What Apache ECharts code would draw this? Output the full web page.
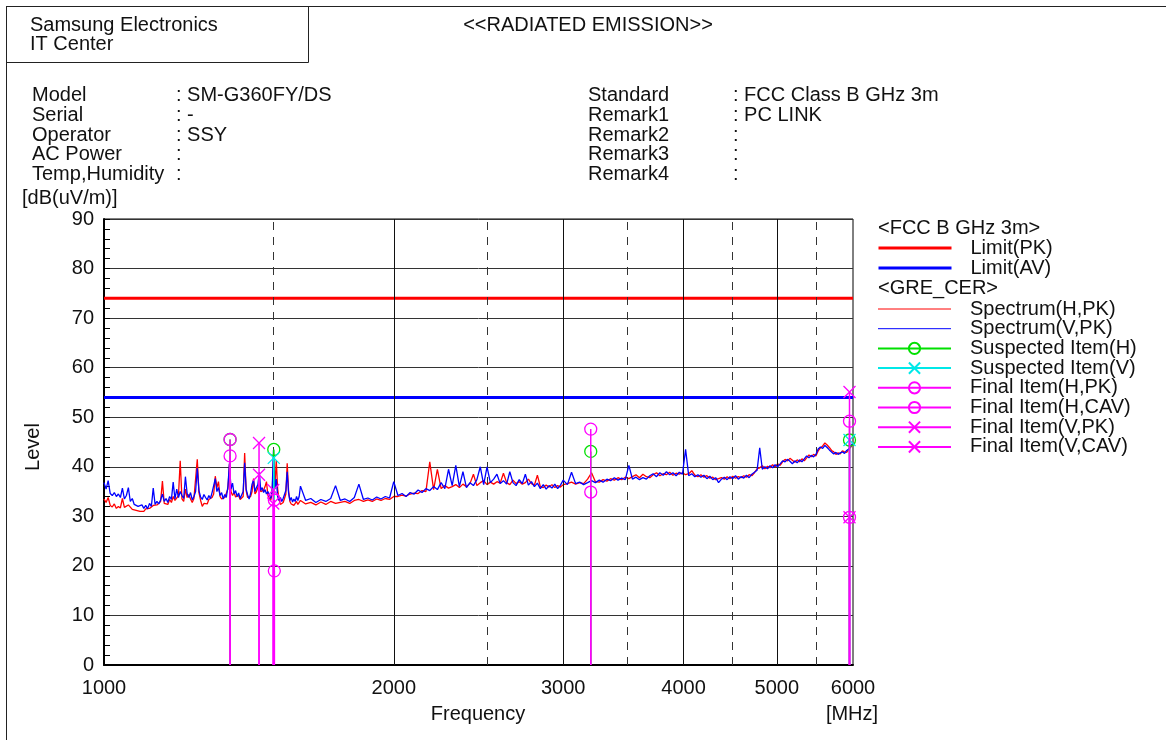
<!DOCTYPE html>
<html><head><meta charset="utf-8">
<script src="https://cdn.jsdelivr.net/npm/echarts@6/dist/echarts.min.js"></script>
<style>html,body{margin:0;padding:0;background:#fff}#c{width:1166px;height:740px}</style>
</head><body><div id="c"></div>
<script>
// ---- data: measurement sweep (MHz) ----
const freqs = [
1000,1005,1010,1015,1020,1025,1030,1035,1040,1045,
1050,1055,1060,1065,1070,1075,1080,1085,1090,1095,
1100,1105,1110,1115,1120,1125,1130,1135,1140,1145,
1150,1155,1160,1165,1170,1175,1180,1185,1190,1195,
1200,1205,1210,1215,1220,1225,1230,1235,1240,1245,
1250,1255,1260,1265,1270,1275,1280,1285,1290,1295,
1300,1305,1310,1315,1320,1325,1330,1335,1340,1345,
1350,1355,1360,1365,1370,1375,1380,1385,1390,1395,
1400,1405,1410,1415,1420,1425,1430,1435,1440,1445,
1450,1455,1460,1465,1470,1475,1480,1485,1490,1495,
1500,1505,1510,1515,1520,1525,1530,1535,1540,1545,
1550,1555,1560,1565,1570,1575,1580,1585,1590,1595,
1600,
1620,1640,1660,1680,1700,1720,1740,1760,1780,1800,
1820,1840,1860,1880,1900,1920,1940,1960,1980,2000,
2020,2040,2060,2080,2100,2120,2140,2160,2180,2200,
2220,2240,2260,2280,2300,2320,2340,2360,2380,2400,
2420,2440,2460,2480,2500,2520,2540,2560,2580,2600,
2620,2640,2660,2680,2700,2720,2740,2760,2780,2800,
2820,2840,2860,2880,2900,2920,2940,2960,2980,3000,
3030,3060,3090,3120,3150,3180,3210,3240,3270,3300,
3330,3360,3390,3420,3450,3480,3510,3540,3570,3600,
3630,3660,3690,3720,3750,3780,3810,3840,3870,3900,
3930,3960,3990,4020,4050,4080,4110,4140,4170,4200,
4230,4260,4290,4320,4350,4380,4410,4440,4470,4500,
4530,4560,4590,4620,4650,4680,4710,4740,4770,4800,
4830,4860,4890,4920,4950,4980,5010,5040,5070,5100,
5130,5160,5190,5220,5250,5280,5310,5340,5370,5400,
5430,5460,5490,5520,5550,5580,5610,5640,5670,5700,
5730,5760,5790,5820,5850,5880,5910,5940,5970,6000];
const spectrumH = [
33.5,32.8,33.8,32.2,31.9,32.5,31.6,32.0,31.7,33.6,
31.8,31.5,32.3,31.9,31.4,31.8,31.2,31.6,31.0,31.4,
31.0,31.5,31.2,31.6,31.3,32.2,31.8,32.3,31.9,33.0,
37.1,32.6,33.0,32.4,33.4,32.8,34.0,33.2,33.6,34.2,
41.2,33.5,33.0,35.5,33.8,34.4,33.5,32.8,33.6,34.0,
41.5,34.8,33.2,32.0,32.6,33.0,32.5,33.4,33.0,33.8,
34.5,38.1,35.8,37.0,34.0,33.5,33.2,33.8,33.4,35.5,
40.5,35.0,34.2,34.8,33.9,33.6,34.2,33.4,33.0,34.0,
42.8,35.2,33.8,33.4,34.0,35.0,37.6,34.5,35.0,35.8,
36.5,35.0,34.6,35.3,36.0,37.0,34.2,33.8,33.2,34.5,
41.3,36.0,41.3,35.5,33.4,32.4,32.0,32.8,33.6,34.5,
40.7,35.2,33.0,32.5,32.8,32.2,32.6,33.0,32.4,32.8,
33.2,
32.5,32.8,32.3,32.9,32.4,33.0,32.6,32.8,33.0,32.6,
33.2,33.4,33.0,33.3,33.0,33.5,33.2,33.6,33.4,34.0,
34.0,34.3,34.1,34.5,34.7,34.6,35.2,35.0,41.0,35.4,
39.5,35.6,36.2,35.7,36.0,36.4,35.8,36.5,36.0,36.6,
38.5,36.2,36.8,37.2,36.4,36.9,36.5,37.0,36.7,38.7,
36.8,36.4,37.3,36.6,37.0,36.5,36.8,37.5,36.6,36.3,
38.3,36.0,35.8,36.3,35.9,36.4,35.8,36.2,35.9,36.4,
36.6,36.9,36.5,36.8,36.6,37.5,38.8,37.0,36.9,37.4,
37.1,37.6,37.3,37.8,37.4,37.9,37.6,38.0,38.4,37.8,
38.5,38.0,37.8,38.4,38.8,38.2,38.6,38.4,38.9,38.3,
38.7,38.5,38.8,38.4,38.6,39.2,38.3,38.0,38.4,37.9,
38.2,37.7,37.9,37.4,37.6,37.8,37.5,38.0,37.6,38.1,
37.7,38.0,37.8,38.2,37.9,38.4,38.2,38.8,39.6,39.8,
40.2,39.6,40.1,39.8,40.4,40.0,40.6,40.3,41.0,41.5,
41.2,41.7,41.3,40.9,41.4,41.0,41.6,41.2,41.8,42.4,
42.0,42.5,42.2,43.2,43.8,44.2,44.8,44.4,43.9,43.3,
43.0,42.5,42.8,42.6,43.2,43.0,42.9,43.5,44.0,44.6];
const spectrumV = [
36.8,35.5,37.2,34.6,34.2,34.8,34.0,34.5,33.8,35.7,
33.5,34.2,35.8,33.0,33.6,32.4,32.8,32.0,31.8,32.3,
31.6,32.2,31.5,32.6,32.0,35.7,32.4,33.0,32.5,33.3,
34.5,33.0,33.6,32.8,34.0,33.4,36.9,33.5,35.5,33.8,
35.0,34.2,33.6,38.0,34.6,33.8,34.8,33.3,34.0,35.0,
39.7,35.2,33.9,33.4,34.4,33.8,33.3,34.2,33.6,34.8,
35.2,37.6,35.0,35.8,34.2,34.8,33.5,34.4,33.8,36.0,
40.7,35.5,36.7,34.5,35.2,34.0,34.7,33.6,34.3,35.0,
40.8,35.5,34.3,33.5,34.6,36.5,37.3,35.0,35.8,36.4,
38.9,35.2,35.8,34.8,35.4,34.5,35.0,34.2,33.6,35.0,
43.4,35.5,37.5,34.0,33.2,33.8,33.0,33.6,34.4,35.2,
39.0,34.8,33.2,33.8,32.9,33.5,33.0,34.0,33.2,34.0,
36.1,
33.2,33.6,32.8,33.4,33.0,33.6,36.2,33.2,33.5,33.0,
33.8,36.5,33.4,33.7,33.3,33.9,33.5,34.0,33.7,37.0,
34.2,34.6,34.0,34.8,34.5,35.3,34.8,35.6,35.2,36.0,
35.4,36.8,35.6,39.5,36.2,40.3,36.0,39.0,35.8,36.8,
36.2,37.4,40.0,36.4,40.0,36.8,37.5,38.5,36.6,37.2,
36.5,39.0,36.8,36.2,37.4,36.6,38.5,36.3,37.0,36.0,
36.7,35.6,36.4,35.5,36.2,35.7,36.5,35.6,36.3,37.3,
36.4,38.9,36.6,36.9,36.4,36.8,37.2,36.8,37.3,36.9,
37.5,37.2,37.8,37.3,37.7,37.4,40.3,37.5,37.9,37.4,
37.8,37.5,38.2,38.6,38.0,38.8,38.3,39.0,38.4,38.8,
38.2,38.9,38.5,43.5,38.2,38.6,38.0,38.4,37.9,38.3,
37.6,38.1,37.4,37.8,36.8,37.5,37.9,37.4,38.0,37.6,
38.2,37.5,38.0,37.7,38.3,37.8,38.5,38.9,39.3,43.8,
39.5,40.0,39.6,40.2,39.8,40.4,40.0,40.6,41.2,41.0,
41.5,41.1,40.6,41.2,40.8,41.4,41.0,41.6,42.2,41.8,
42.3,42.0,42.5,43.6,44.0,43.7,44.3,43.9,43.4,43.0,
42.6,42.9,42.5,42.8,43.0,42.7,43.3,43.6,44.2,44.8];

const limitFreqs = [1000, 6000];
const limitPK = [74, 74];
const limitAV = [54, 54];

const suspHFreq = [1352, 1501, 3204, 5950];
const suspHVal  = [45.5, 43.5, 43.1, 45.4];
const suspVFreq = [1501, 5950];
const suspVVal  = [41.8, 45.4];
const finHPKFreq  = [1352, 1503, 3204, 5950];
const finHPKVal   = [45.5, 33.3, 47.6, 49.2];
const finHCAVFreq = [1352, 1503, 3204, 5950];
const finHCAVVal  = [42.2, 19.0, 34.9, 29.8];
const finVPKFreq  = [1449, 1499, 5950];
const finVPKVal   = [44.8, 35.3, 55.1];
const finVCAVFreq = [1449, 1499, 5950];
const finVCAVVal  = [38.4, 32.6, 29.8];

const xLabels = [1000, 2000, 3000, 4000, 5000, 6000];
const solidGrid = [2000, 3000, 4000, 5000];
const dashGrid = [1500, 2500, 3500, 4500, 5500];

// ---- chart ----
const FONT = '"Liberation Sans", Arial, sans-serif';
const FS = 20;
const chart = echarts.init(document.getElementById('c'), null, {renderer: 'canvas'});

function zip(xs, ys) { return xs.map((x, i) => [x, ys[i]]); }
function stems(xs, ys) {
  const out = [];
  xs.forEach((x, i) => {
    out.push({value: [x, 0], symbol: 'none'});
    out.push([x, ys[i]]);
    out.push([x, '-']);
  });
  return out;
}
const CROSS = 'path://M0,0L10,10M10,0L0,10';
function stemSeries(name, xs, ys, color, symbol, z) {
  return {
    name, type: 'line', data: stems(xs, ys), connectNulls: false,
    symbol, symbolSize: 12, showSymbol: true, z,
    lineStyle: {color, width: 1.5},
    itemStyle: {color: 'rgba(0,0,0,0)', borderColor: color, borderWidth: 1.3},
    emphasis: {disabled: true}, animation: false
  };
}

function txt(text, x, y, extra) {
  return Object.assign({type: 'text', x, y, silent: true,
    style: Object.assign({text, font: FS + 'px ' + FONT, fill: '#111', textVerticalAlign: 'middle'}, extra || {})});
}

const headerRows = [
  ['Model', ': SM-G360FY/DS', 'Standard', ': FCC Class B GHz 3m'],
  ['Serial', ': -', 'Remark1', ': PC LINK'],
  ['Operator', ': SSY', 'Remark2', ':'],
  ['AC Power', ':', 'Remark3', ':'],
  ['Temp,Humidity', ':', 'Remark4', ':']
];
const rowY = [95, 115, 135, 154, 174];
const graphics = [
  {type: 'line', shape: {x1: 6, y1: 6.5, x2: 1166, y2: 6.5}, style: {stroke: '#222', lineWidth: 1}, silent: true},
  {type: 'rect', shape: {x: 6.5, y: 6.5, width: 302, height: 56}, style: {fill: 'none', stroke: '#222', lineWidth: 1}, silent: true},
  {type: 'line', shape: {x1: 6.5, y1: 6, x2: 6.5, y2: 740}, style: {stroke: '#222', lineWidth: 1}, silent: true},
  txt('Samsung Electronics', 30, 25),
  txt('IT Center', 30, 44),
  txt('<<RADIATED EMISSION>>', 588, 25, {textAlign: 'center'}),
  txt('[dB(uV/m)]', 22, 198),
  txt('Level', 33, 447, {textAlign: 'center'}),
  txt('Frequency', 478, 714, {textAlign: 'center'}),
  txt('[MHz]', 852, 714, {textAlign: 'center'}),
  txt('<FCC B GHz 3m>', 878, 228),
  txt('<GRE_CER>', 878, 288)
];
graphics[7].rotation = Math.PI / 2;
headerRows.forEach((r, i) => {
  graphics.push(txt(r[0], 32, rowY[i]));
  graphics.push(txt(r[1], 176, rowY[i]));
  graphics.push(txt(r[2], 588, rowY[i]));
  graphics.push(txt(r[3], 733, rowY[i]));
});

const legendCommon = {
  orient: 'vertical', left: 877, itemWidth: 73, itemHeight: 14, padding: 0,
  selectedMode: false,
  textStyle: {fontSize: FS, fontFamily: FONT, color: '#111', padding: [0, 0, 0, 14]}
};
const noSym = {opacity: 0};
const option = {
  animation: false,
  backgroundColor: '#fff',
  graphic: graphics,
  legend: [
    Object.assign({}, legendCommon, {top: 238, itemGap: 0, data: [
      {name: 'Limit(PK)', itemStyle: noSym, lineStyle: {width: 3}},
      {name: 'Limit(AV)', itemStyle: noSym, lineStyle: {width: 3}}]}),
    Object.assign({}, legendCommon, {top: 299, itemGap: -0.3, data: [
      {name: 'Spectrum(H,PK)', itemStyle: noSym, lineStyle: {width: 1}},
      {name: 'Spectrum(V,PK)', itemStyle: noSym, lineStyle: {width: 1}},
      'Suspected Item(H)', 'Suspected Item(V)',
      'Final Item(H,PK)', 'Final Item(H,CAV)', 'Final Item(V,PK)', 'Final Item(V,CAV)']})
  ],
  grid: {left: 104, top: 219, right: 313, bottom: 75, show: true, borderColor: '#000', borderWidth: 1, containLabel: false},
  xAxis: {
    type: 'log', logBase: 10, min: 1000, max: 6000,
    axisLine: {show: true, lineStyle: {color: '#000', width: 2}},
    axisTick: {show: false},
    splitLine: {show: false},
    minorSplitLine: {show: false},
    axisLabel: {
      customValues: xLabels, margin: 13,
      fontSize: FS, fontFamily: FONT, color: '#111',
      formatter: v => String(Math.round(v))
    }
  },
  yAxis: {
    type: 'value', min: 0, max: 90, interval: 10,
    axisLine: {show: true, lineStyle: {color: '#000', width: 2}},
    axisTick: {show: true, inside: true, length: 6, lineStyle: {color: '#000'}},
    minorTick: {show: true, splitNumber: 5, length: 6, lineStyle: {color: '#000'}},
    splitLine: {show: true, lineStyle: {color: '#333', width: 1}},
    axisLabel: {fontSize: FS, fontFamily: FONT, color: '#111', margin: 10}
  },
  series: [
    {
      name: 'grid', type: 'line', data: [], z: 1, silent: true,
      markLine: {
        silent: true, symbol: 'none', label: {show: false}, animation: false,
        data: solidGrid.map(v => ({xAxis: v, lineStyle: {color: '#111', width: 1, type: 'solid'}}))
          .concat(dashGrid.map(v => ({xAxis: v, lineStyle: {color: '#333', width: 1, type: [8, 7]}})))
      }
    },
    {name: 'Limit(PK)', type: 'line', data: zip(limitFreqs, limitPK), symbol: 'none', z: 3,
      lineStyle: {color: '#ff0000', width: 3}, itemStyle: {color: '#ff0000'}},
    {name: 'Limit(AV)', type: 'line', data: zip(limitFreqs, limitAV), symbol: 'none', z: 3,
      lineStyle: {color: '#0000ff', width: 3}, itemStyle: {color: '#0000ff'}},
    {name: 'Spectrum(H,PK)', type: 'line', data: zip(freqs, spectrumH), symbol: 'none', z: 4,
      lineStyle: {color: '#ff0000', width: 1.3}, itemStyle: {color: '#ff0000'}},
    {name: 'Spectrum(V,PK)', type: 'line', data: zip(freqs, spectrumV), symbol: 'none', z: 5,
      lineStyle: {color: '#0000ff', width: 1.3}, itemStyle: {color: '#0000ff'}},
    stemSeries('Suspected Item(H)', suspHFreq, suspHVal, '#00e000', 'circle', 6),
    stemSeries('Suspected Item(V)', suspVFreq, suspVVal, '#00e8e8', CROSS, 6),
    stemSeries('Final Item(H,PK)', finHPKFreq, finHPKVal, '#ff00ff', 'circle', 7),
    stemSeries('Final Item(H,CAV)', finHCAVFreq, finHCAVVal, '#ff00ff', 'circle', 7),
    stemSeries('Final Item(V,PK)', finVPKFreq, finVPKVal, '#ff00ff', CROSS, 7),
    stemSeries('Final Item(V,CAV)', finVCAVFreq, finVCAVVal, '#ff00ff', CROSS, 7)
  ]
};
chart.setOption(option);
</script>
</body></html>
